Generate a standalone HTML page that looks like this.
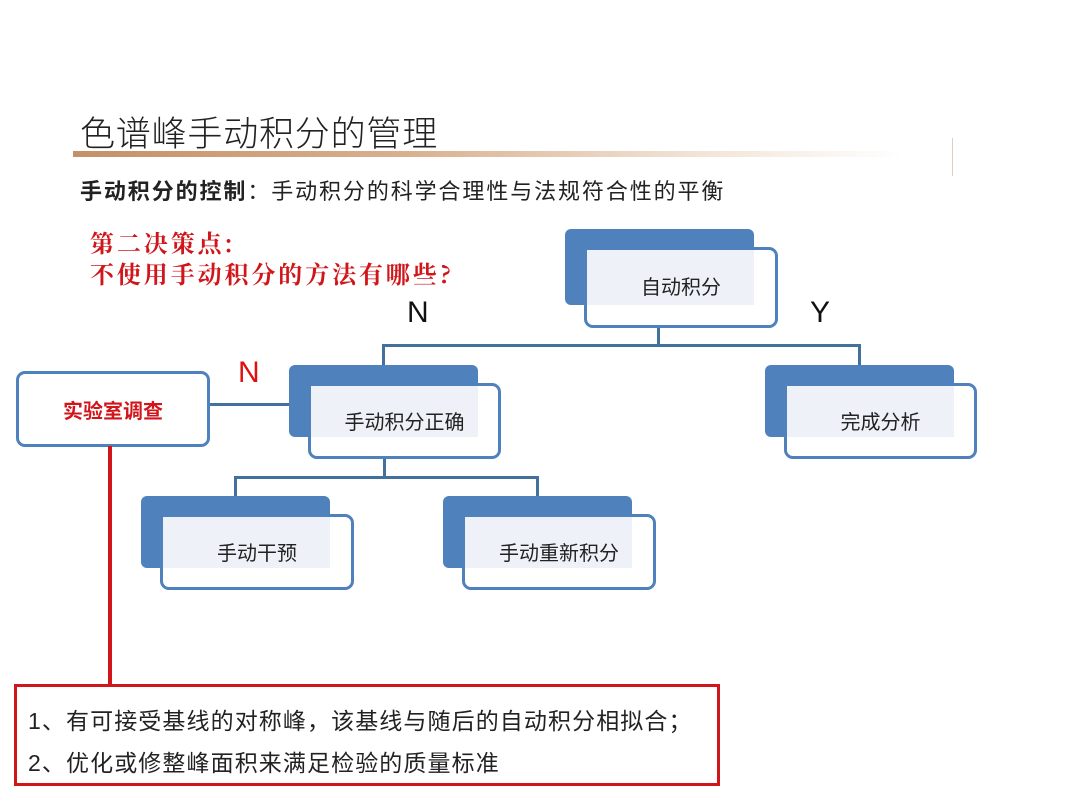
<!DOCTYPE html>
<html><head><meta charset="utf-8"><style>
body{margin:0;width:1080px;height:810px;background:#fff;position:relative;overflow:hidden;font-family:"Liberation Sans","Noto Sans CJK SC",sans-serif;}
.a{position:absolute;}
.dk{position:absolute;background:#4f81bd;border-radius:6px;}
.fr{position:absolute;border:3px solid #4f81bd;border-radius:9px;background:#fff;box-sizing:border-box;}
.lt{position:absolute;background:#eef2f8;}
.tx{position:absolute;display:flex;align-items:center;justify-content:center;font-size:20px;color:#222;}
.ln{position:absolute;background:#41719c;}
</style></head><body>
<div class="a" style="left:80px;top:106px;font-size:35px;letter-spacing:0.8px;color:#222;font-weight:300;">色谱峰手动积分的管理</div>
<div class="a" style="left:73px;top:151px;width:830px;height:6px;background:linear-gradient(to right,#c49067,#d8b08e 40%,#f2e3d6 75%,#fff);"></div>
<div class="a" style="left:952px;top:138px;width:1px;height:38px;background:#e0cdbd;"></div>
<div class="a" style="left:80px;top:174px;font-size:22px;letter-spacing:1.9px;color:#222;white-space:nowrap;"><b>手动积分的控制</b>：手动积分的科学合理性与法规符合性的平衡</div>
<div class="a" style="left:90px;top:226px;font-size:24px;letter-spacing:2.9px;line-height:31px;color:#d0161b;font-weight:bold;font-family:'Noto Serif CJK SC','Liberation Serif',serif;white-space:nowrap;">第二决策点:<br>不使用手动积分的方法有哪些?</div>

<div class="ln" style="left:657px;top:326px;width:3px;height:20px;"></div>
<div class="ln" style="left:382px;top:344px;width:479px;height:3px;"></div>
<div class="ln" style="left:382px;top:344px;width:3px;height:22px;"></div>
<div class="ln" style="left:858px;top:344px;width:3px;height:22px;"></div>
<div class="ln" style="left:383px;top:457px;width:3px;height:20px;"></div>
<div class="ln" style="left:234px;top:476px;width:305px;height:3px;"></div>
<div class="ln" style="left:234px;top:476px;width:3px;height:20px;"></div>
<div class="ln" style="left:536px;top:476px;width:3px;height:20px;"></div>
<div class="ln" style="left:208px;top:403px;width:84px;height:3px;"></div>

<div class="a" style="left:407px;top:296px;font-size:30px;color:#111;">N</div>
<div class="a" style="left:810px;top:296px;font-size:30px;color:#111;">Y</div>
<div class="a" style="left:238px;top:356px;font-size:30px;color:#e01010;">N</div>

<div class="dk" style="left:565px;top:229px;width:189px;height:76px;"></div>
<div class="fr" style="left:584px;top:247px;width:194px;height:81px;"></div>
<div class="lt" style="left:587px;top:250px;width:167px;height:55px;"></div>
<div class="tx" style="left:584px;top:258px;width:194px;height:55px;">自动积分</div>

<div class="dk" style="left:289px;top:365px;width:189px;height:72px;"></div>
<div class="fr" style="left:308px;top:383px;width:193px;height:76px;"></div>
<div class="lt" style="left:311px;top:386px;width:167px;height:51px;"></div>
<div class="tx" style="left:308px;top:395px;width:193px;height:51px;">手动积分正确</div>

<div class="dk" style="left:765px;top:365px;width:189px;height:72px;"></div>
<div class="fr" style="left:784px;top:383px;width:193px;height:76px;"></div>
<div class="lt" style="left:787px;top:386px;width:167px;height:51px;"></div>
<div class="tx" style="left:784px;top:395px;width:193px;height:51px;">完成分析</div>

<div class="dk" style="left:141px;top:496px;width:189px;height:72px;"></div>
<div class="fr" style="left:160px;top:514px;width:194px;height:76px;"></div>
<div class="lt" style="left:163px;top:517px;width:167px;height:51px;"></div>
<div class="tx" style="left:160px;top:526px;width:194px;height:51px;">手动干预</div>

<div class="dk" style="left:443px;top:496px;width:189px;height:72px;"></div>
<div class="fr" style="left:462px;top:514px;width:194px;height:76px;"></div>
<div class="lt" style="left:465px;top:517px;width:167px;height:51px;"></div>
<div class="tx" style="left:462px;top:526px;width:194px;height:51px;">手动重新积分</div>

<div class="fr" style="left:16px;top:371px;width:194px;height:76px;display:flex;align-items:center;justify-content:center;font-size:20px;color:#d0161b;font-weight:bold;">实验室调查</div>

<div class="a" style="left:108px;top:446px;width:4px;height:240px;background:#d0161b;"></div>
<div class="a" style="left:14px;top:684px;width:706px;height:102px;border:3px solid #d0161b;box-sizing:border-box;"></div>
<div class="a" style="left:28px;top:702px;font-size:23px;letter-spacing:1.1px;color:#222;white-space:nowrap;">1、有可接受基线的对称峰，该基线与随后的自动积分相拟合；</div>
<div class="a" style="left:28px;top:744px;font-size:23px;letter-spacing:1.1px;color:#222;white-space:nowrap;">2、优化或修整峰面积来满足检验的质量标准</div>
</body></html>
